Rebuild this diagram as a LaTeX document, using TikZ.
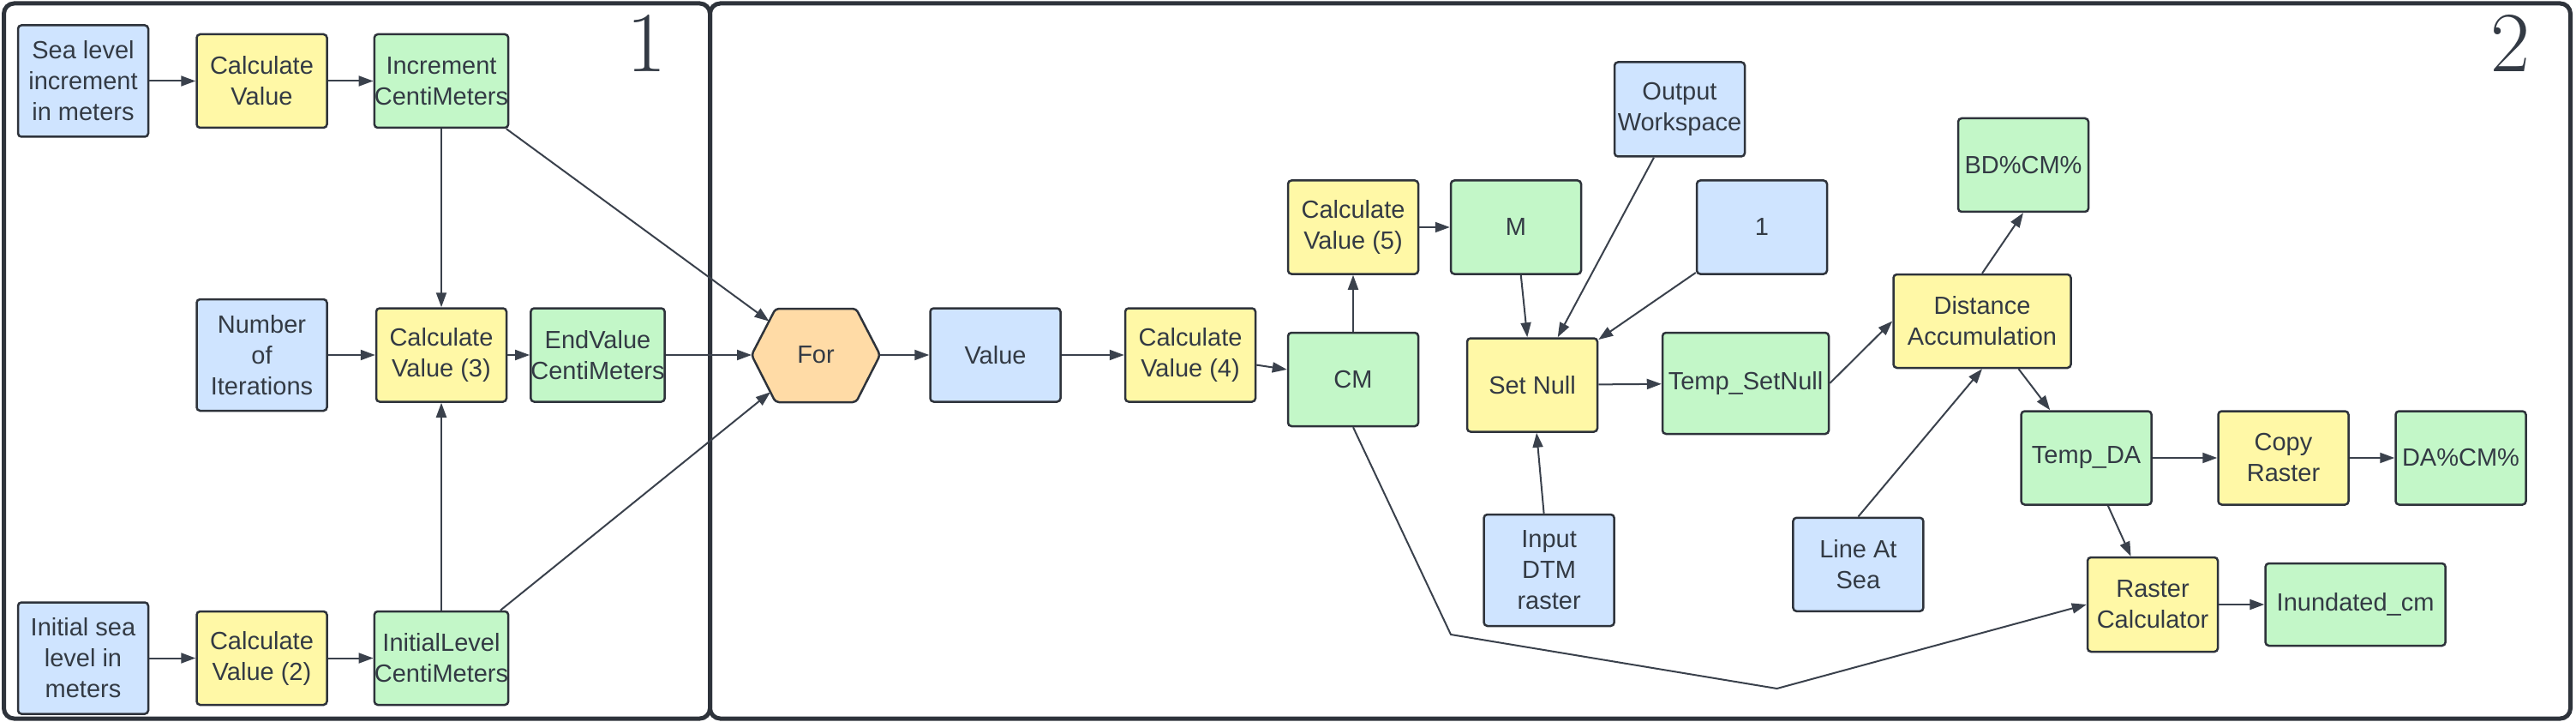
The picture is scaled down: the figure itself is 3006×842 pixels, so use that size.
\documentclass[tikz,border=0pt]{standalone}
\usepackage{fontspec}
\newfontfamily\lucid{Liberation Sans}
\usetikzlibrary{arrows.meta}
\definecolor{bluef}{HTML}{CFE4FF}
\definecolor{yelf}{HTML}{FFF8A6}
\definecolor{grnf}{HTML}{C3F7C8}
\definecolor{orgf}{HTML}{FFDBA6}
\definecolor{edgecol}{HTML}{2E333B}
\definecolor{ink}{HTML}{333A44}
\definecolor{conncol}{HTML}{3A414C}
\begin{document}
\begin{tikzpicture}[x=1pt,y=-1pt,
  box/.style={draw=edgecol, line width=2.5pt, rounded corners=4pt, minimum width=152pt, minimum height=109pt, inner sep=0pt, align=center, text=ink, font=\lucid\fontsize{29}{36}\selectfont},
  inp/.style={box, fill=bluef},
  tool/.style={box, fill=yelf},
  outp/.style={box, fill=grnf},
  conn/.style={draw=conncol, line width=2pt, -{Triangle[length=17pt,width=12pt]}},
  plainconn/.style={draw=conncol, line width=2pt},
  frame/.style={draw=edgecol, line width=5pt, rounded corners=12pt},
  bignum/.style={text=ink, inner sep=0pt, font=\fontsize{100}{100}\selectfont}]
\useasboundingbox (0,0) rectangle (3006,842);
% frames
\draw[frame] (4.5,4) rectangle (828.5,838);
\draw[frame] (828.5,4) rectangle (2999.5,838);
\node[bignum] (n1) at (754.7,50) {1};
\node[bignum] (n2) at (2929,50) {2};
% section 1
\node[inp, minimum height=130pt] (sea) at (97,94.5) {Sea level\\increment\\in meters};
\node[tool] (cv1) at (305.5,94.5) {Calculate\\Value};
\node[outp] (inc) at (515,94.5) {Increment\\CentiMeters};
\node[inp, minimum height=130pt] (nit) at (305.5,414) {Number\\of\\Iterations};
\node[tool] (cv3) at (515,414) {Calculate\\Value (3)};
\node[outp] (endv) at (697.5,414) {EndValue\\CentiMeters};
\node[inp, minimum height=130pt] (ini) at (97,767.5) {Initial sea\\level in\\meters};
\node[tool] (cv2) at (305.5,767.5) {Calculate\\Value (2)};
\node[outp] (inil) at (515,767.5) {InitialLevel\\CentiMeters};
% For hexagon
\draw[draw=edgecol, fill=orgf, line width=2.5pt, rounded corners=4pt] (952,360) -- (999,360) -- (1027,414) -- (999,469) -- (905,469) -- (877,414) -- (905,360) -- cycle;
\node[text=ink, font=\lucid\fontsize{29}{36}\selectfont, inner sep=0pt] (for) at (952,414) {For};
\coordinate (forW) at (877,414);
\coordinate (forE) at (1027,414);
\coordinate (forUL) at (897.5,374.6);
\coordinate (forLL) at (899,457.3);
% section 2
\node[inp] (val) at (1161.5,414) {Value};
\node[tool] (cv4) at (1389,414) {Calculate\\Value (4)};
\node[outp] (cm) at (1579,442.5) {CM};
\node[tool] (cv5) at (1579,265) {Calculate\\Value (5)};
\node[outp] (m) at (1769,265) {M};
\node[inp, minimum height=110pt] (ow) at (1960,127.5) {Output\\Workspace};
\node[inp] (one) at (2056,265) {1};
\node[tool] (sn) at (1788,449) {Set Null};
\node[outp, minimum width=194pt, minimum height=118pt] (tsn) at (2037,447) {Temp\_SetNull};
\node[outp] (bd) at (2361,192.5) {BD\%CM\%};
\node[tool, minimum width=207pt] (da) at (2313,374.5) {Distance\\Accumulation};
\node[inp, minimum height=130pt] (dtm) at (1807.6,665) {Input\\DTM\\raster};
\node[inp] (las) at (2168.4,658.3) {Line At\\Sea};
\node[outp] (tda) at (2434.6,534) {Temp\_DA};
\node[tool] (cr) at (2664.5,534) {Copy\\Raster};
\node[outp] (dacm) at (2871.5,534) {DA\%CM\%};
\node[tool, minimum height=110pt] (rc) at (2512,705) {Raster\\Calculator};
\node[outp, minimum width=210pt, minimum height=96pt] (inu) at (2748.6,705) {Inundated\_cm};
\coordinate (b1) at (1693,740);
\coordinate (b2) at (2073.5,803);
% connectors section 1
\draw[conn] (sea) -- (cv1);
\draw[conn] (cv1) -- (inc);
\draw[conn] (inc) -- (cv3);
\draw[conn] (nit) -- (cv3);
\draw[conn] (cv3) -- (endv);
\draw[conn] (inil) -- (cv3);
\draw[conn] (ini) -- (cv2);
\draw[conn] (cv2) -- (inil);
\draw[conn] (inc) -- (forUL);
\draw[conn] (endv) -- (forW);
\draw[conn] (inil) -- (forLL);
% connectors section 2
\draw[conn] (forE) -- (val);
\draw[conn] (val) -- (cv4);
\draw[conn] (cv4) -- (cm);
\draw[conn] (cm) -- (cv5);
\draw[conn] (cv5) -- (m);
\draw[conn] (m) -- (sn);
\draw[conn] (ow) -- (sn);
\draw[conn] (one) -- (sn);
\draw[conn] (dtm) -- (sn);
\draw[conn] (sn) -- (tsn);
\draw[conn] (tsn.east) -- (da.west);
\draw[conn] (da.north) -- (bd.south);
\draw[conn] (da) -- (tda);
\draw[conn] (las.north) -- (da.south);
\draw[conn] (tda) -- (cr);
\draw[conn] (cr) -- (dacm);
\draw[conn] (tda) -- (rc);
\draw[conn] (rc) -- (inu);
\draw[conn] (cm.south) -- (b1) -- (b2) -- (rc.west);
\end{tikzpicture}
\end{document}
